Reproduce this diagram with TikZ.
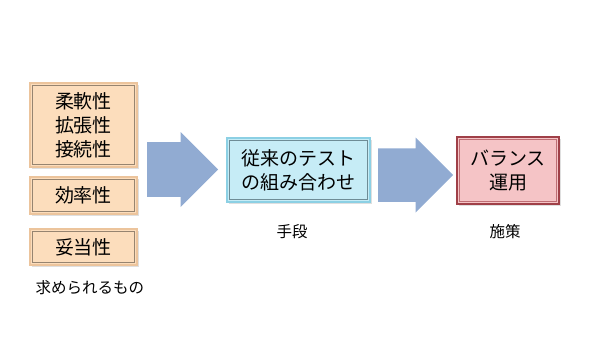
\documentclass[tikz,border=0pt]{standalone}
\usepackage{fontspec}
\usepackage{tikz}
\usetikzlibrary{shapes.arrows,shadows,positioning,calc}
\newfontfamily\jpfont{Noto Sans CJK JP}
\definecolor{reqfill}{RGB}{252,221,188}
\definecolor{reqline}{RGB}{236,196,156}
\definecolor{reqin}{RGB}{150,132,112}
\definecolor{toolfill}{RGB}{198,236,246}
\definecolor{toolline}{RGB}{140,208,228}
\definecolor{toolin}{RGB}{110,140,150}
\definecolor{resfill}{RGB}{245,196,198}
\definecolor{resline}{RGB}{160,64,72}
\definecolor{resin}{RGB}{190,110,116}
\definecolor{flow}{RGB}{145,171,210}

\tikzset{
  framebox/.style n args={3}{draw=#1,fill=#2,line width=1.6pt,inner sep=0pt,
    align=center,font=\jpfont\fontsize{19}{24}\selectfont,
    drop shadow={opacity=0.25,shadow xshift=1.5pt,shadow yshift=-1.5pt},
    path picture={\draw[#3,line width=0.5pt]
      ([shift={(2.5pt,-2.5pt)}]path picture bounding box.north west) rectangle
      ([shift={(-2.5pt,2.5pt)}]path picture bounding box.south east);}},
  flowarrow/.style={single arrow,fill=flow,draw=none,inner xsep=0pt,
    minimum width=75pt,anchor=tail},
  caption/.style={font=\jpfont\fontsize{15.5}{18}\selectfont}
}

\begin{document}
\begin{tikzpicture}[x=1pt,y=-1pt]
\useasboundingbox (0,0) rectangle (590,362);
% required qualities
\foreach \nm/\yy/\hh/\lab in {
  flex/125/84/{柔軟性\\拡張性\\接続性},
  eff/195.5/37/{効率性},
  val/247/36/{妥当性}}{
  \node[framebox={reqline}{reqfill}{reqin},minimum width=107pt,
    minimum height=\hh pt] (\nm) at (83.5,\yy) {\lab};
}
\node[caption,anchor=west] (req) at (32,288) {求められるもの};
% means
\node[flowarrow,minimum height=71pt,inner ysep=19pt] (arr1) at (147,169.5) {};
\node[framebox={toolline}{toolfill}{toolin},minimum width=143pt,
  minimum height=64pt] (tool) at (298.5,170) {従来のテスト\\の組み合わせ};
\node[caption] (means) at (292,232) {手段};
% measure
\node[flowarrow,minimum height=75pt,inner ysep=17.5pt] (arr2) at (378,175) {};
\node[framebox={resline}{resfill}{resin},minimum width=102pt,
  minimum height=67pt] (res) at (508,170.5) {バランス\\運用};
\node[caption] (plan) at (505,232) {施策};
\end{tikzpicture}
\end{document}
